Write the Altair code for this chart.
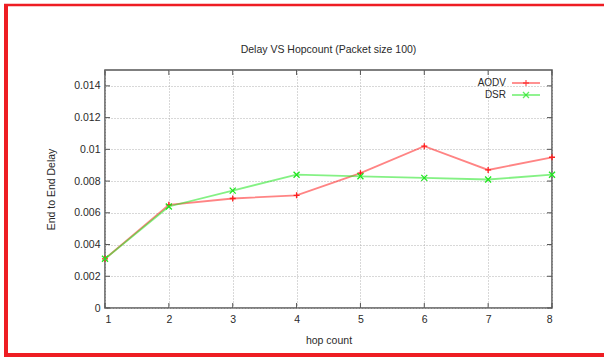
import altair as alt
import pandas as pd

hops = [1, 2, 3, 4, 5, 6, 7, 8]
aodv = [0.0031, 0.0065, 0.0069, 0.0071, 0.0085, 0.0102, 0.0087, 0.0095]
dsr = [0.0031, 0.0064, 0.0074, 0.0084, 0.0083, 0.0082, 0.0081, 0.0084]
series = ["AODV", "DSR"]
y_ticks = [0, 0.002, 0.004, 0.006, 0.008, 0.010, 0.012, 0.014]
title_text = "Delay VS Hopcount (Packet size 100)"

df = pd.DataFrame({
    "hop": hops * 2,
    "delay": aodv + dsr,
    "series": ["AODV"] * len(hops) + ["DSR"] * len(hops),
})
leg = pd.DataFrame({"series": series})
one = pd.DataFrame({"a": [0]})
ttl = pd.DataFrame({"t": [title_text]})
xt = pd.DataFrame({"hop": hops})
yt = pd.DataFrame({"v": y_ticks})

FONT = "Liberation Sans"
TXT = "#2a2a2a"
FRAME = "#555555"

color_scale = alt.Scale(domain=series, range=["#ff1f1f", "#1fe61f"])
shape_scale = alt.Scale(domain=series, range=["M-1,0L1,0M0,-1L0,1", "M-1,-1L1,1M-1,1L1,-1"])
x_scale = alt.Scale(domain=[1, 8], nice=False, zero=False)
y_scale = alt.Scale(domain=[0, 0.015], nice=False)

x_axis = alt.Axis(values=hops, format="d", title="hop count", labelPadding=6, titlePadding=11)
y_axis = alt.Axis(values=y_ticks, format="~g", title="End to End Delay",
                  labelPadding=5, titlePadding=17)

color = alt.Color("series:N", scale=color_scale, legend=None)

lines = alt.Chart(df).mark_line(strokeWidth=1.8, opacity=0.55).encode(
    x=alt.X("hop:Q", scale=x_scale, axis=x_axis),
    y=alt.Y("delay:Q", scale=y_scale, axis=y_axis),
    color=color,
)

points = alt.Chart(df).mark_point(filled=False, strokeWidth=1.3, size=36, opacity=1).encode(
    x=alt.X("hop:Q", scale=x_scale, axis=x_axis),
    y=alt.Y("delay:Q", scale=y_scale, axis=None),
    color=color,
    shape=alt.Shape("series:N", scale=shape_scale, legend=None),
)

# inward tick marks on all four sides of the frame (gnuplot style)
xq = alt.X("hop:Q", scale=x_scale, axis=x_axis)
tick_bottom = alt.Chart(xt).mark_rule(color=FRAME, strokeWidth=1).encode(
    x=xq, y=alt.value(233), y2=alt.value(238))
tick_top = alt.Chart(xt).mark_rule(color=FRAME, strokeWidth=1).encode(
    x=xq, y=alt.value(0), y2=alt.value(5))
yq = alt.Y("v:Q", scale=y_scale, axis=None)
tick_left = alt.Chart(yt).mark_rule(color=FRAME, strokeWidth=1).encode(
    y=yq, x=alt.value(0), x2=alt.value(5))
tick_right = alt.Chart(yt).mark_rule(color=FRAME, strokeWidth=1).encode(
    y=yq, x=alt.value(442), x2=alt.value(447))

# legend (gnuplot style: label then line sample)
ly = alt.Y("series:N", scale=alt.Scale(type="point", domain=series, range=[13, 25], padding=0), axis=None)
leg_text = alt.Chart(leg).mark_text(align="right", baseline="middle", font=FONT,
                                    fontSize=10, color=TXT).encode(
    x=alt.value(401), y=ly, text="series:N")
leg_rule = alt.Chart(leg).mark_rule(strokeWidth=1.8, opacity=0.55).encode(
    x=alt.value(407), x2=alt.value(435), y=ly, color=color)
leg_pt = alt.Chart(leg).mark_point(filled=False, strokeWidth=1.3, size=36).encode(
    x=alt.value(421), y=ly, color=color,
    shape=alt.Shape("series:N", scale=shape_scale, legend=None))

# chart title as a text mark (the frame below would push a real title off the page)
title_mark = alt.Chart(ttl).mark_text(align="center", baseline="middle", font=FONT,
                                      fontSize=10.5, color=TXT).encode(
    x=alt.value(223.5), y=alt.value(-20), text="t:N")

# red frame around the picture
RED = "#ee1d23"
b_left = alt.Chart(one).mark_rule(color=RED, strokeWidth=4).encode(
    x=alt.value(-99), y=alt.value(-66), y2=alt.value(287))
b_top = alt.Chart(one).mark_rule(color=RED, strokeWidth=2.5).encode(
    x=alt.value(-101), x2=alt.value(499), y=alt.value(-65))
b_bottom = alt.Chart(one).mark_rule(color=RED, strokeWidth=4).encode(
    x=alt.value(-101), x2=alt.value(499), y=alt.value(285))

chart = alt.layer(
    lines, points, tick_bottom, tick_top, tick_left, tick_right,
    leg_rule, leg_pt, leg_text, title_mark, b_left, b_top, b_bottom
).resolve_scale(y="independent").properties(
    width=447,
    height=238,
    autosize=alt.AutoSizeParams(type="none"),
    padding={"left": 105, "top": 70, "right": 52, "bottom": 49},
    background="white",
).configure_view(
    stroke=FRAME, strokeWidth=1.5
).configure_axis(
    domain=False, ticks=False, grid=True, gridColor="#b0b0b0", gridDash=[1, 2],
    gridWidth=1, labelFont=FONT, labelFontSize=10.5, labelColor=TXT,
    titleFont=FONT, titleFontSize=10.5, titleFontWeight="normal", titleColor=TXT,
)

chart.save("out.html", embed_options={"renderer": "svg", "actions": False})
